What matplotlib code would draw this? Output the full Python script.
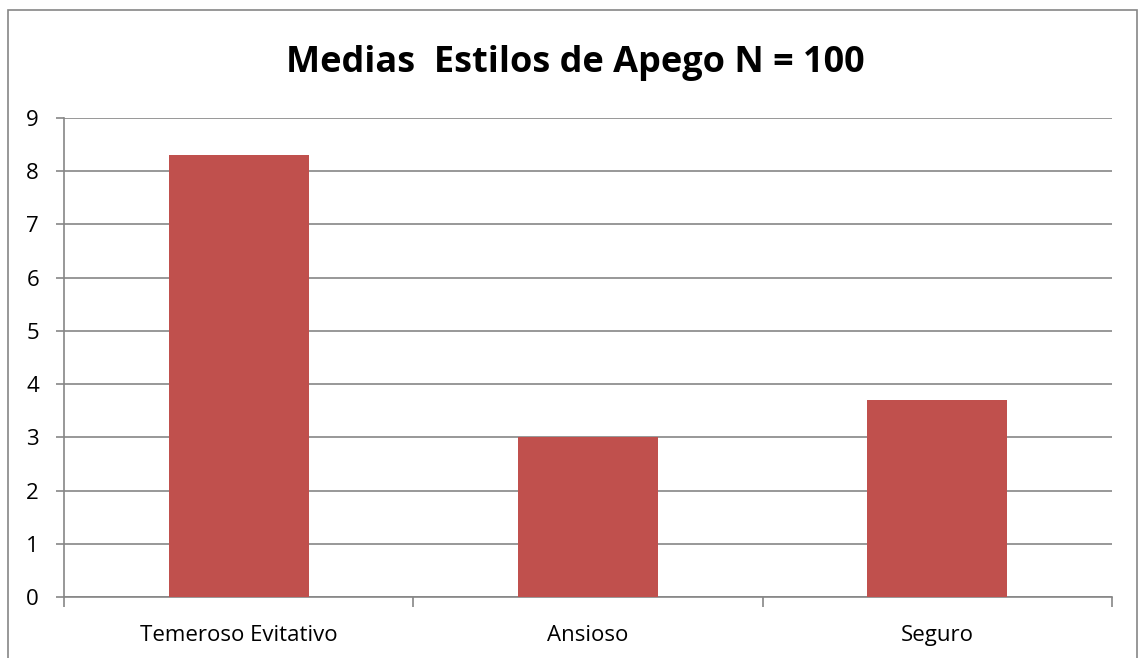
import matplotlib.pyplot as plt
from matplotlib.patches import Rectangle

# medias por estilo de apego
estilos = ['Temeroso Evitativo', 'Ansioso', 'Seguro']
medias = [8.3, 3.0, 3.7]
titulo = 'Medias  Estilos de Apego N = 100'

plt.rcParams['font.family'] = ['Open Sans', 'DejaVu Sans']

fig = plt.figure(figsize=(11.39, 6.58), dpi=100)
ax = fig.add_axes([64 / 1139, 61 / 658, 1048 / 1139, 479 / 658])

x = range(len(estilos))
ax.bar(x, medias, width=0.4, color='#C0504D', zorder=3)

ax.set_xlim(-0.5, len(estilos) - 0.5)
ax.set_ylim(0, 9)
ax.set_yticks(range(10))
ax.yaxis.grid(True, color='#868686', linewidth=1.2, zorder=0)

# ticks del eje x en los limites de cada categoria
ax.set_xticks([-0.5, 0.5, 1.5, 2.5])
ax.set_xticklabels([])
ax.set_xticks(list(x), minor=True)
ax.set_xticklabels(estilos, minor=True, fontsize=16)
ax.tick_params(axis='x', which='minor', length=0, pad=20)
ax.tick_params(axis='x', which='major', length=7, color='#868686', width=1.2)
ax.tick_params(axis='y', length=6, color='#868686', width=1.2, labelsize=16, pad=12)

for s in ['top', 'right']:
    ax.spines[s].set_visible(False)
for s in ['left', 'bottom']:
    ax.spines[s].set_color('#868686')
    ax.spines[s].set_linewidth(1.2)

fig.text(575 / 1139, 1 - 63 / 658, titulo, ha='center', va='center',
         fontsize=26, fontweight='bold')

# borde del area del grafico
fig.patches.append(Rectangle((8 / 1139, -0.01), 1129 / 1139, 1 - 10 / 658 + 0.01,
                             transform=fig.transFigure, fill=False,
                             edgecolor='#868686', linewidth=1.2))

fig.savefig('out.png', dpi=100)
